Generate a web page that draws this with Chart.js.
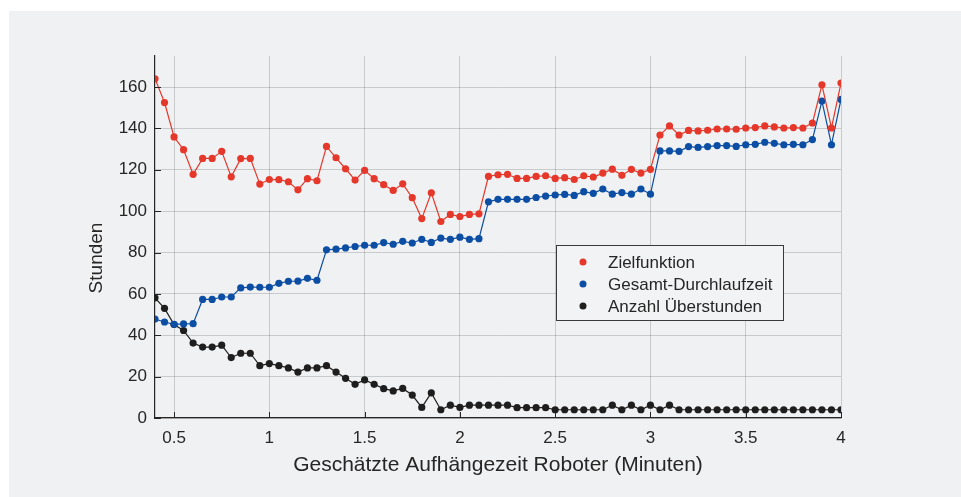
<!DOCTYPE html>
<html>
<head>
<meta charset="utf-8">
<script src="https://cdn.jsdelivr.net/npm/chart.js@4"></script>
<style>
  html, body { margin: 0; padding: 0; background: #ffffff; }
  #wrap { width: 961px; height: 497px; }
</style>
</head>
<body>
<div id="wrap"><canvas id="chart" width="961" height="497"></canvas></div>
<script>
// x-Werte: geschätzte Aufhängezeit in Minuten
const minutes = [0.4, 0.45, 0.5, 0.55, 0.6, 0.65, 0.7, 0.75, 0.8, 0.85, 0.9, 0.95, 1.0, 1.05, 1.1,
  1.15, 1.2, 1.25, 1.3, 1.35, 1.4, 1.45, 1.5, 1.55, 1.6, 1.65, 1.7, 1.75, 1.8,
  1.85, 1.9, 1.95, 2.0, 2.05, 2.1, 2.15, 2.2, 2.25, 2.3, 2.35, 2.4, 2.45, 2.5, 2.55,
  2.6, 2.65, 2.7, 2.75, 2.8, 2.85, 2.9, 2.95, 3.0, 3.05, 3.1, 3.15, 3.2, 3.25,
  3.3, 3.35, 3.4, 3.45, 3.5, 3.55, 3.6, 3.65, 3.7, 3.75, 3.8, 3.85, 3.9, 3.95, 4.0];

const zielfunktion = [164, 152.5, 135.9, 129.7, 117.8, 125.5, 125.5, 128.9, 116.6, 125.4, 125.5, 113.1, 115.3, 115.2, 114.2,
  110.3, 115.7, 114.7, 131.3, 125.8, 120.5, 115, 119.7, 115.7, 112.8, 110, 113.2, 106.5, 96.4,
  108.9, 95, 98.4, 97.4, 98.4, 98.7, 116.8, 117.6, 117.8, 115.8, 115.8, 116.8, 117.1, 115.8, 116.2,
  115.3, 117.1, 116.5, 118.4, 120.3, 117.3, 120.2, 118.4, 120.2, 136.8, 141.2, 136.8, 139.0, 138.8,
  139.1, 139.7, 139.7, 139.6, 140.2, 140.4, 141.2, 140.7, 140.2, 140.4, 140.2, 142.6, 161.1, 140.2, 161.9];

const durchlaufzeit = [47.8, 46.4, 45.3, 45.5, 45.6, 57.3, 57.3, 58.5, 58.5, 62.9, 63.3, 63.2, 63.2, 65.1, 66.1,
  66.2, 67.5, 66.6, 81.3, 81.6, 82.2, 82.9, 83.5, 83.5, 84.8, 84.0, 85.4, 84.6, 86.4,
  84.9, 87.0, 86.4, 87.4, 86.4, 86.7, 104.5, 105.7, 105.7, 105.7, 105.7, 106.6, 107.3, 107.8, 108.1,
  107.6, 109.4, 108.6, 110.7, 108.2, 109.0, 108.2, 110.7, 108.2, 129.1, 129.1, 128.9, 131.2, 130.8,
  131.2, 131.7, 131.7, 131.3, 132.1, 132.3, 133.3, 132.8, 132.1, 132.3, 132.1, 134.6, 153.2, 132.1, 154.0];

const ueberstunden = [58.1, 53.0, 45.2, 42.3, 36.2, 34.3, 34.3, 35.2, 29.2, 31.3, 31.3, 25.3, 26.3, 25.3, 24.2,
  22.2, 24.2, 24.2, 25.3, 22.2, 19.2, 16.3, 18.4, 16.3, 14.2, 13.1, 14.3, 11.1, 5.1,
  12.1, 4.0, 6.2, 5.1, 6.2, 6.2, 6.2, 6.2, 6.2, 5.0, 5.0, 5.0, 5.0, 4.0, 4.0,
  4.0, 4.0, 4.0, 4.0, 6.2, 4.0, 6.2, 4.0, 6.2, 4.0, 6.2, 4.0, 4.0, 4.0,
  4.0, 4.0, 4.0, 4.0, 4.0, 4.0, 4.0, 4.0, 4.0, 4.0, 4.0, 4.0, 4.0, 4.0, 4.0];

const xTicks = [0.5, 1, 1.5, 2, 2.5, 3, 3.5, 4];
const yTicks = [0, 20, 40, 60, 80, 100, 120, 140, 160];

const seriesNames = ['Zielfunktion', 'Gesamt-Durchlaufzeit', 'Anzahl Überstunden'];
const seriesColors = ['#e5382b', '#0c4ea3', '#1e1e1e'];
const yTitle = 'Stunden';

const FONT = '"Liberation Sans", Arial, Helvetica, sans-serif';
const AXIS_COLOR = '#262626';

function toPoints(values) {
  return minutes.map((m, i) => ({ x: m, y: values[i] }));
}

// grauer Hintergrund hinter dem Diagramm
const panelBg = {
  id: 'panelBg',
  beforeDraw(chart) {
    const ctx = chart.ctx;
    ctx.save();
    ctx.fillStyle = '#f0f1f3';
    ctx.fillRect(9, 11, chart.width - 9, chart.height - 11);
    ctx.restore();
  }
};

// kleine Striche nach innen wie bei Matlab
const innerTicks = {
  id: 'innerTicks',
  afterDatasetsDraw(chart) {
    const ctx = chart.ctx;
    const a = chart.chartArea;
    const xs = chart.scales.x, ys = chart.scales.y;
    ctx.save();
    ctx.strokeStyle = AXIS_COLOR;
    ctx.lineWidth = 1;
    ctx.beginPath();
    xTicks.forEach(t => {
      const px = Math.round(xs.getPixelForValue(t)) + 0.5;
      ctx.moveTo(px, a.bottom);
      ctx.lineTo(px, a.bottom - 6);
    });
    yTicks.forEach(t => {
      const py = Math.round(ys.getPixelForValue(t)) + 0.5;
      ctx.moveTo(a.left, py);
      ctx.lineTo(a.left + 6, py);
    });
    ctx.stroke();
    ctx.restore();
  }
};

// y-Beschriftung etwas tiefer, wie im Original
const yLabel = {
  id: 'yLabel',
  afterDraw(chart) {
    const ctx = chart.ctx;
    ctx.save();
    ctx.translate(97, 258);
    ctx.rotate(-Math.PI / 2);
    ctx.font = '19px ' + FONT;
    ctx.fillStyle = '#262626';
    ctx.textAlign = 'center';
    ctx.textBaseline = 'middle';
    ctx.fillText(yTitle, 0, 0);
    ctx.restore();
  }
};

// Legende als Kasten im Diagramm
const boxLegend = {
  id: 'boxLegend',
  afterDraw(chart) {
    const ctx = chart.ctx;
    const x0 = 556, y0 = 245, w = 227, h = 75;
    ctx.save();
    ctx.fillStyle = '#f2f3f5';
    ctx.fillRect(x0, y0, w, h);
    ctx.strokeStyle = '#3a3a3a';
    ctx.lineWidth = 1;
    ctx.strokeRect(x0 + 0.5, y0 + 0.5, w, h);
    ctx.font = '17px ' + FONT;
    ctx.textBaseline = 'middle';
    seriesNames.forEach((name, i) => {
      const cy = y0 + 17 + i * 22;
      ctx.fillStyle = seriesColors[i];
      ctx.beginPath();
      ctx.arc(x0 + 27, cy, 3.5, 0, Math.PI * 2);
      ctx.fill();
      ctx.fillStyle = '#262626';
      ctx.fillText(name, x0 + 52, cy + 1);
    });
    ctx.restore();
  }
};

const datasets = [zielfunktion, durchlaufzeit, ueberstunden].map((vals, i) => ({
  label: seriesNames[i],
  data: toPoints(vals),
  showLine: true,
  borderColor: seriesColors[i],
  backgroundColor: seriesColors[i],
  borderWidth: 1.2,
  pointRadius: 3.6,
  pointBorderWidth: 0,
  pointHoverRadius: 3.6,
  tension: 0
}));

new Chart(document.getElementById('chart'), {
  type: 'scatter',
  data: { datasets: datasets },
  options: {
    responsive: false,
    animation: false,
    events: [],
    layout: { padding: { left: 73, top: 56, right: 120, bottom: 0 } },
    plugins: {
      legend: { display: false },
      tooltip: { enabled: false }
    },
    scales: {
      x: {
        type: 'linear',
        min: 0.4,
        max: 4,
        afterBuildTicks: s => { s.ticks = xTicks.map(v => ({ value: v })); },
        afterFit: s => { s.height = 79; },
        grid: { color: 'rgba(0,0,0,0.16)', drawTicks: false },
        border: { display: true, color: AXIS_COLOR, width: 1.2 },
        ticks: {
          padding: 10,
          color: '#262626',
          font: { family: FONT, size: 17 },
          maxRotation: 0,
          callback: v => String(v)
        },
        title: {
          display: true,
          text: 'Geschätzte Aufhängezeit Roboter (Minuten)',
          color: '#262626',
          font: { family: FONT, size: 21 },
          padding: { top: 0, bottom: 19 }
        }
      },
      y: {
        min: 0,
        max: 175,
        afterBuildTicks: s => { s.ticks = yTicks.map(v => ({ value: v })); },
        afterFit: s => { s.width = 82; },
        grid: { color: 'rgba(0,0,0,0.16)', drawTicks: false },
        border: { display: true, color: AXIS_COLOR, width: 1.2 },
        ticks: {
          padding: 8,
          color: '#262626',
          font: { family: FONT, size: 17 }
        }
      }
    }
  },
  plugins: [panelBg, innerTicks, yLabel, boxLegend]
});
</script>
</body>
</html>
